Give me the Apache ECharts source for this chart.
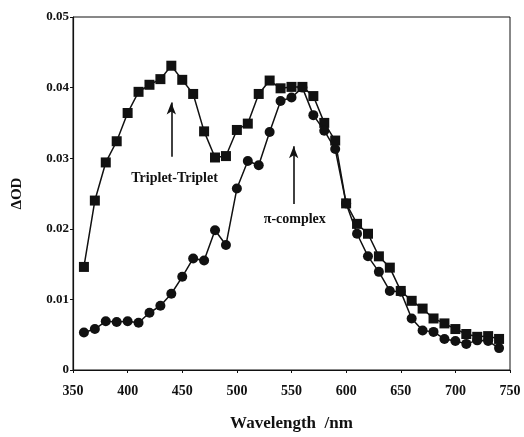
<!DOCTYPE html>
<html>
<head>
<meta charset="utf-8">
<script src="https://cdn.jsdelivr.net/npm/echarts@6/dist/echarts.min.js"></script>
<style>
  html, body { margin: 0; padding: 0; background: #fff; }
  #main { width: 524px; height: 437px; }
</style>
</head>
<body>
<div id="main"></div>
<script>
// wavelengths (nm), every 10 nm
var wavelength = [360, 370, 380, 390, 400, 410, 420, 430, 440, 450, 460, 470, 480, 490,
  500, 510, 520, 530, 540, 550, 560, 570, 580, 590, 600, 610, 620, 630, 640, 650,
  660, 670, 680, 690, 700, 710, 720, 730, 740]
// squares - triplet-triplet
var tripletOD = [0.0146, 0.0240, 0.0294, 0.0324, 0.0364, 0.0394, 0.0404, 0.0412, 0.0431, 0.0411,
  0.0391, 0.0338, 0.0301, 0.0303, 0.0340, 0.0349, 0.0391, 0.0410, 0.0399, 0.0401,
  0.0401, 0.0388, 0.0350, 0.0325, 0.0236, 0.0207, 0.0193, 0.0161, 0.0145, 0.0112,
  0.0098, 0.0087, 0.0073, 0.0066, 0.0058, 0.0051, 0.0047, 0.0048, 0.0044]
// circles - pi-complex
var complexOD = [0.0053, 0.0058, 0.0069, 0.0068, 0.0069, 0.0067, 0.0081, 0.0091, 0.0108, 0.0132,
  0.0158, 0.0155, 0.0198, 0.0177, 0.0257, 0.0296, 0.0290, 0.0337, 0.0381, 0.0386,
  0.0400, 0.0361, 0.0339, 0.0313, 0.0236, 0.0193, 0.0161, 0.0139, 0.0112, 0.0111,
  0.0073, 0.0056, 0.0054, 0.0044, 0.0041, 0.0037, 0.0042, 0.0041, 0.0031]
var xTicks = [350, 400, 450, 500, 550, 600, 650, 700, 750]
var yTicks = [0, 0.01, 0.02, 0.03, 0.04, 0.05]

var ink = '#111'
var serif = '"Liberation Serif", "Times New Roman", serif'

function pairs(xs, ys) {
  var out = []
  for (var i = 0; i < xs.length; i++) out.push([xs[i], ys[i]])
  return out
}

var chart = echarts.init(document.getElementById('main'))
chart.setOption({
  animation: false,
  grid: { left: 73, right: 14, top: 17, bottom: 62, show: true, borderColor: ink, borderWidth: 1 },
  xAxis: {
    type: 'value', min: xTicks[0], max: xTicks[xTicks.length - 1], interval: 50,
    name: 'Wavelength  /nm', nameLocation: 'middle', nameGap: 45,
    nameTextStyle: { fontFamily: serif, fontWeight: 'bold', fontSize: 17, color: ink },
    axisLine: { lineStyle: { color: ink, width: 1.2 } },
    axisTick: { show: true, inside: false, length: 3, lineStyle: { color: ink } },
    axisLabel: { margin: 14, fontFamily: serif, fontWeight: 'bold', fontSize: 14, color: ink },
    splitLine: { show: false }
  },
  yAxis: {
    type: 'value', min: yTicks[0], max: yTicks[yTicks.length - 1], interval: 0.01,
    name: 'ΔOD', nameLocation: 'middle', nameGap: 48,
    nameTextStyle: { fontFamily: serif, fontWeight: 'bold', fontSize: 15, color: ink },
    axisLine: { lineStyle: { color: ink, width: 1.2 } },
    axisTick: { show: true, inside: false, length: 3, lineStyle: { color: ink } },
    axisLabel: {
      margin: 4, fontFamily: serif, fontWeight: 'bold', fontSize: 13, color: ink,
      formatter: function(v) { return v === 0 ? '0' : v.toFixed(2) }
    },
    splitLine: { show: false }
  },
  series: [
    {
      type: 'line', name: 'Triplet-Triplet', data: pairs(wavelength, tripletOD),
      symbol: 'rect', symbolSize: 10,
      lineStyle: { color: ink, width: 1.5 }, itemStyle: { color: ink },
      markLine: {
        silent: true, symbol: ['none', 'arrow'], symbolSize: [7, 12],
        lineStyle: { color: ink, width: 1.6, type: 'solid' }, label: { show: false },
        data: [[{ coord: [440, 0.0302] }, { coord: [440, 0.0379] }]]
      },
      markPoint: {
        silent: true, symbol: 'circle', symbolSize: 0,
        label: { show: true, formatter: 'Triplet-Triplet', fontFamily: serif, fontWeight: 'bold', fontSize: 14, color: ink },
        data: [{ coord: [443, 0.0272] }]
      }
    },
    {
      type: 'line', name: 'π-complex', data: pairs(wavelength, complexOD),
      symbol: 'circle', symbolSize: 10,
      lineStyle: { color: ink, width: 1.5 }, itemStyle: { color: ink },
      markLine: {
        silent: true, symbol: ['none', 'arrow'], symbolSize: [7, 12],
        lineStyle: { color: ink, width: 1.6, type: 'solid' }, label: { show: false },
        data: [[{ coord: [552, 0.0235] }, { coord: [552, 0.0317] }]]
      },
      markPoint: {
        silent: true, symbol: 'circle', symbolSize: 0,
        label: { show: true, formatter: 'π-complex', fontFamily: serif, fontWeight: 'bold', fontSize: 14, color: ink },
        data: [{ coord: [553, 0.0213] }]
      }
    }
  ]
})
</script>
</body>
</html>
